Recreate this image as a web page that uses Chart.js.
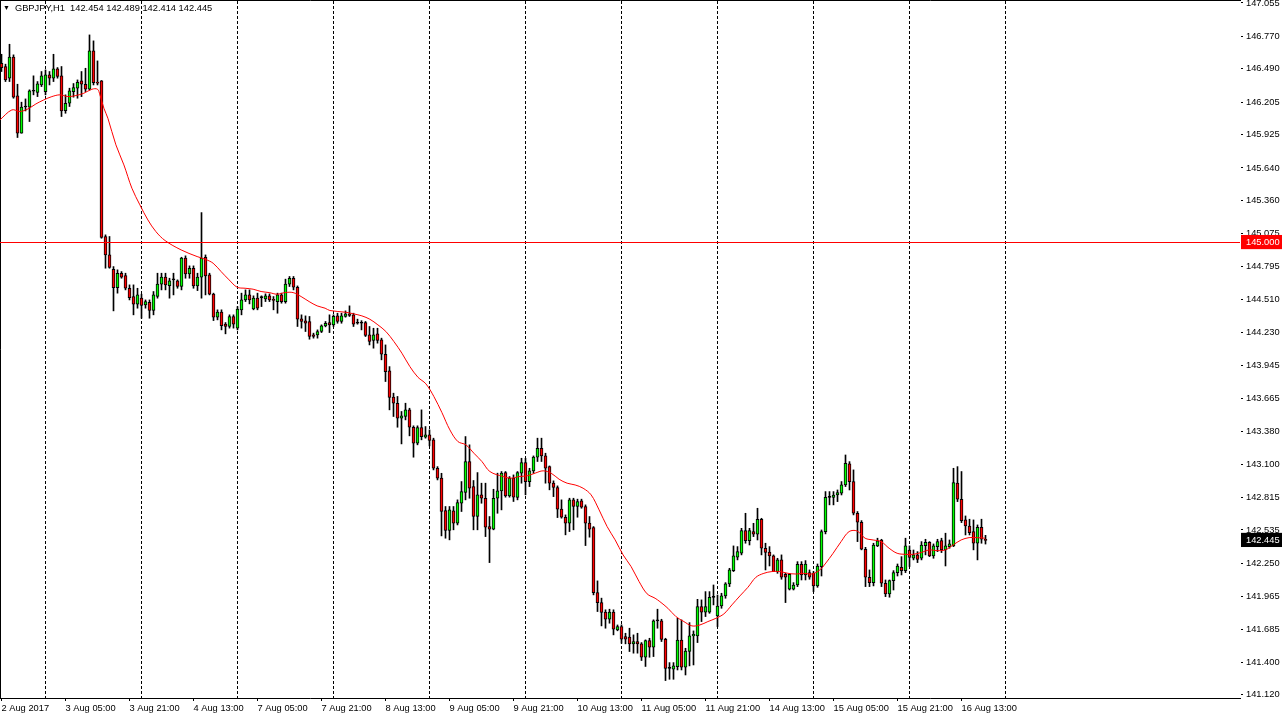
<!DOCTYPE html>
<html>
<head>
<meta charset="utf-8">
<script src="https://cdn.jsdelivr.net/npm/chart.js@4.4.1/dist/chart.umd.min.js"></script>
<style>
html,body{margin:0;padding:0;background:#fff;overflow:hidden}
#wrap{position:relative;width:1282px;height:719px}
canvas{display:block}
#title{position:absolute;left:3px;top:1px;font-family:"Liberation Sans",Arial,sans-serif;font-size:9.3px;line-height:14px;color:#000;white-space:pre}
#title .tri{font-size:7px;vertical-align:1px;margin-right:5px}
</style>
</head>
<body>
<div id="wrap">
<canvas id="c" width="1282" height="719"></canvas>
<div id="title"><span class="tri">▼</span>GBPJPY,H1  142.454 142.489 142.414 142.445</div>
</div>
<script>
// ---- DATA (GBPJPY, H1, from 2 Aug 2017 13:00) ----
const opens = [
146.538,146.510,146.410,146.590,146.258,145.938,146.163,146.161,146.298,146.287,
146.352,146.295,146.438,146.410,146.490,146.430,146.132,146.195,146.295,146.324,
146.387,146.358,146.315,146.644,146.372,146.387,145.052,144.894,144.771,144.614,
144.737,144.717,144.608,144.537,144.471,144.523,144.465,144.488,144.417,144.537,
144.643,144.703,144.631,144.680,144.671,144.623,144.866,144.731,144.780,144.628,
144.703,144.874,144.723,144.557,144.360,144.403,144.300,144.280,144.366,144.266,
144.423,144.508,144.551,144.431,144.523,144.528,144.517,144.543,144.514,144.494,
144.551,144.494,144.643,144.694,144.617,144.346,144.328,144.323,144.208,144.208,
144.237,144.286,144.314,144.294,144.371,144.323,144.366,144.388,144.380,144.308,
144.308,144.314,144.208,144.160,144.217,144.165,144.042,143.899,143.674,143.622,
143.493,143.508,143.565,143.416,143.279,143.413,143.330,143.350,143.307,143.064,
142.979,142.701,142.530,142.699,142.593,142.764,142.856,143.122,142.907,142.650,
142.836,142.807,142.564,142.541,142.807,142.870,143.027,142.827,142.979,142.813,
143.021,143.113,142.950,143.042,143.159,143.236,143.170,143.079,142.936,142.899,
142.713,142.644,142.593,142.793,142.736,142.784,142.736,142.593,142.556,141.998,
141.912,141.830,141.770,141.830,141.678,141.707,141.621,141.615,141.558,141.578,
141.558,141.443,141.586,141.529,141.755,141.755,141.597,141.348,141.340,141.363,
141.591,141.357,141.492,141.626,141.626,141.877,141.829,141.829,141.957,141.797,
141.883,141.969,142.072,142.186,142.301,142.335,142.529,142.443,142.521,142.498,
142.626,142.378,142.346,142.312,142.178,142.278,142.155,142.026,142.026,142.063,
142.240,142.149,142.169,142.163,142.055,142.221,142.521,142.815,142.815,142.835,
142.850,142.921,143.101,142.950,142.678,142.601,142.369,142.129,142.083,142.398,
142.449,142.078,141.986,142.100,142.169,142.215,142.186,142.363,142.292,142.321,
142.292,142.401,142.429,142.312,142.392,142.444,142.363,142.392,142.398,142.936,
142.798,142.621,142.569,142.521,142.421,142.558,142.454
];
const highs = [
146.615,146.530,146.701,146.610,146.358,146.204,146.232,146.310,146.430,146.381,
146.467,146.481,146.467,146.615,146.501,146.510,146.267,146.324,146.364,146.395,
146.467,146.495,146.781,146.730,146.558,146.390,145.066,145.052,144.794,144.766,
144.751,144.737,144.637,144.637,144.608,144.557,144.508,144.508,144.580,144.737,
144.737,144.737,144.694,144.737,144.680,144.874,144.886,144.800,144.800,144.737,
145.257,144.894,144.737,144.566,144.423,144.423,144.314,144.380,144.380,144.451,
144.566,144.594,144.594,144.543,144.566,144.543,144.560,144.560,144.537,144.566,
144.566,144.686,144.709,144.709,144.628,144.380,144.371,144.366,144.223,144.251,
144.294,144.323,144.380,144.380,144.394,144.394,144.414,144.457,144.394,144.343,
144.330,144.323,144.280,144.265,144.265,144.180,144.122,143.936,143.708,143.680,
143.551,143.622,143.579,143.428,143.428,143.565,143.422,143.393,143.322,143.078,
143.021,142.736,142.736,142.736,142.793,142.950,143.336,143.265,142.959,143.027,
142.936,142.936,142.650,142.884,143.022,143.036,143.036,142.993,143.007,143.036,
143.150,143.150,143.064,143.170,143.322,143.322,143.193,143.084,142.956,142.913,
142.793,142.664,142.807,142.807,142.799,142.799,142.750,142.650,142.564,142.098,
141.950,141.850,141.855,141.850,141.720,141.721,141.649,141.692,141.635,141.649,
141.569,141.592,141.606,141.764,141.855,141.769,141.606,141.397,141.397,141.777,
141.763,141.520,141.740,141.669,141.940,141.935,142.006,142.006,142.063,141.977,
141.992,142.083,142.206,142.398,142.392,142.549,142.678,142.549,142.592,142.721,
142.635,142.421,142.392,142.321,142.292,142.321,142.163,142.163,142.083,142.263,
142.263,142.272,142.192,142.178,142.243,142.535,142.864,142.864,142.864,142.878,
142.950,143.178,143.121,143.050,142.693,142.615,142.386,142.192,142.421,142.464,
142.455,142.106,142.106,142.186,142.243,142.306,142.464,142.398,142.363,142.349,
142.435,142.455,142.435,142.415,142.455,142.464,142.507,142.449,143.064,143.078,
143.036,142.655,142.627,142.621,142.578,142.627,142.489
];
const lows = [
146.467,146.381,146.381,146.238,145.901,145.938,146.129,146.038,146.267,146.252,
146.338,146.267,146.352,146.381,146.410,146.081,146.109,146.167,146.247,146.238,
146.252,146.295,146.310,146.352,146.352,145.037,144.780,144.780,144.414,144.566,
144.694,144.594,144.508,144.380,144.437,144.351,144.437,144.351,144.380,144.523,
144.594,144.594,144.523,144.551,144.608,144.594,144.694,144.694,144.608,144.588,
144.523,144.551,144.551,144.331,144.337,144.251,144.217,144.266,144.266,144.251,
144.380,144.494,144.474,144.423,144.423,144.451,144.494,144.494,144.423,144.394,
144.480,144.480,144.623,144.594,144.280,144.266,144.237,144.171,144.180,144.180,
144.228,144.277,144.228,144.280,144.308,144.308,144.360,144.366,144.280,144.300,
144.251,144.194,144.122,144.094,144.137,143.994,143.808,143.565,143.508,143.416,
143.273,143.479,143.342,143.159,143.265,143.308,143.322,143.256,143.050,142.964,
142.484,142.464,142.450,142.536,142.578,142.693,142.793,142.807,142.536,142.536,
142.764,142.478,142.255,142.536,142.678,142.707,142.816,142.816,142.779,142.793,
142.936,142.836,142.907,143.021,143.122,143.122,142.936,142.879,142.821,142.641,
142.636,142.493,142.521,142.536,142.644,142.721,142.401,142.473,141.978,141.835,
141.712,141.692,141.735,141.635,141.670,141.563,141.558,141.492,141.478,141.478,
141.415,141.364,141.443,141.449,141.692,141.578,141.243,141.254,141.254,141.334,
141.334,141.291,141.369,141.377,141.569,141.749,141.792,141.820,141.892,141.706,
141.863,141.949,142.049,142.178,142.278,142.321,142.421,142.406,142.478,142.449,
142.321,142.192,142.226,142.178,142.163,142.112,141.912,142.020,142.020,142.049,
142.106,142.106,142.112,142.006,142.043,142.140,142.501,142.750,142.750,142.778,
142.835,142.907,142.878,142.664,142.435,142.364,142.049,142.049,142.055,142.392,
142.049,141.963,141.958,142.020,142.140,142.149,142.169,142.221,142.278,142.255,
142.278,142.321,142.306,142.292,142.349,142.341,142.226,142.378,142.392,142.778,
142.598,142.492,142.492,142.364,142.278,142.421,142.414
];
const closes = [
146.501,146.395,146.590,146.247,145.938,146.161,146.163,146.301,146.298,146.361,
146.430,146.438,146.410,146.490,146.424,146.129,146.195,146.301,146.330,146.375,
146.358,146.315,146.644,146.372,146.367,145.043,144.894,144.786,144.614,144.737,
144.703,144.608,144.528,144.471,144.551,144.460,144.494,144.417,144.551,144.643,
144.703,144.637,144.671,144.680,144.623,144.866,144.731,144.780,144.628,144.703,
144.866,144.714,144.557,144.360,144.403,144.288,144.280,144.366,144.300,144.429,
144.508,144.551,144.508,144.523,144.437,144.528,144.543,144.508,144.503,144.551,
144.494,144.643,144.694,144.617,144.343,144.323,144.308,144.194,144.194,144.237,
144.286,144.308,144.294,144.368,144.323,144.371,144.388,144.374,144.300,144.308,
144.308,144.203,144.151,144.208,144.160,144.042,143.893,143.671,143.622,143.493,
143.513,143.565,143.416,143.279,143.413,143.336,143.350,143.302,143.064,142.979,
142.693,142.530,142.707,142.593,142.770,142.864,143.122,142.893,142.650,142.836,
142.807,142.558,142.541,142.807,142.870,143.022,142.827,142.979,142.816,143.027,
143.113,142.950,143.042,143.159,143.236,143.170,143.064,142.936,142.899,142.713,
142.644,142.593,142.793,142.736,142.779,142.730,142.593,142.541,141.998,141.912,
141.827,141.770,141.830,141.684,141.707,141.598,141.598,141.558,141.578,141.558,
141.443,141.586,141.529,141.755,141.755,141.595,141.348,141.348,141.369,141.591,
141.357,141.497,141.626,141.640,141.877,141.829,141.877,141.957,141.957,141.883,
141.969,142.072,142.192,142.312,142.349,142.529,142.443,142.529,142.498,142.626,
142.378,142.343,142.312,142.178,142.278,142.129,142.129,142.155,142.063,142.240,
142.149,142.243,142.129,142.055,142.226,142.521,142.815,142.815,142.835,142.855,
142.921,143.107,142.950,142.678,142.601,142.369,142.129,142.083,142.406,142.441,
142.078,141.986,142.100,142.169,142.226,142.186,142.398,142.300,142.321,142.283,
142.406,142.429,142.312,142.398,142.435,142.363,142.398,142.415,142.941,142.798,
142.615,142.569,142.512,142.421,142.558,142.455,142.445
];
// moving average: bar position and value
const maBars = [
-0.4,2.6,4.6,6.6,8.6,10.6,12.6,14.6,16.6,18.6,20.6,22.6,24.0,24.6,25.6,26.6,28.6,30.6,32.6,34.6,
36.6,38.6,40.9,44.9,48.9,50.9,52.9,54.9,56.9,58.9,60.9,62.9,64.9,66.9,68.9,70.9,72.9,74.9,76.9,78.9,
80.9,82.1,86.1,88.1,90.1,92.1,94.1,96.1,98.1,100.1,102.1,104.1,106.1,108.1,110.1,112.1,114.1,116.1,118.1,120.1,
122.1,125.4,127.4,129.4,131.4,133.4,135.4,137.4,139.4,141.4,143.4,145.4,147.4,149.4,151.4,153.4,155.4,157.4,159.4,161.4,
163.4,164.6,166.6,168.6,170.6,172.6,174.6,176.6,178.6,180.6,182.6,184.6,186.6,188.6,190.6,192.6,194.6,196.6,198.6,200.6,
202.6,204.6,205.9,207.9,209.9,211.9,213.9,215.9,217.9,219.9,221.9,223.9,225.9,227.9,229.9,231.9,233.9,235.9,237.9,239.9,
241.9,243.9,245.9
];
const maValues = [
146.052,146.138,146.124,146.146,146.189,146.224,146.252,146.267,146.252,146.261,146.281,146.315,146.315,146.267,146.152,146.066,145.838,145.666,145.466,145.323,
145.194,145.094,145.017,144.937,144.880,144.857,144.823,144.751,144.680,144.617,144.608,144.600,144.580,144.571,144.557,144.571,144.571,144.537,144.494,144.457,
144.437,144.417,144.402,144.388,144.371,144.342,144.294,144.237,144.151,144.051,143.936,143.845,143.788,143.679,143.542,143.393,143.293,143.265,143.193,143.122,
143.036,142.993,142.979,142.993,142.999,143.022,143.042,143.022,142.970,142.936,142.921,142.893,142.836,142.707,142.564,142.450,142.321,142.221,142.092,141.987,
141.949,141.920,141.863,141.792,141.749,141.712,141.720,141.749,141.777,141.815,141.892,141.969,142.043,142.129,142.163,142.178,142.178,142.163,142.157,142.163,
142.157,142.192,142.243,142.335,142.435,142.521,142.526,142.464,142.449,142.435,142.378,142.335,142.326,142.326,142.341,142.363,142.358,142.363,142.406,142.449,
142.469,142.469,142.464
];
const levelLine = 145.000;          // horizontal line
const lastPrice = 142.445;          // current bid tag
const yTickValues = [147.055,146.770,146.490,146.205,145.925,145.640,145.360,145.075,144.795,144.510,144.230,
  143.945,143.665,143.380,143.100,142.815,142.535,142.250,141.965,141.685,141.400,141.120];
const timeLabels = ["2 Aug 2017","3 Aug 05:00","3 Aug 21:00","4 Aug 13:00","7 Aug 05:00","7 Aug 21:00",
  "8 Aug 13:00","9 Aug 05:00","9 Aug 21:00","10 Aug 13:00","11 Aug 05:00","11 Aug 21:00",
  "14 Aug 13:00","15 Aug 05:00","15 Aug 21:00","16 Aug 13:00"];
const timeLabelBars = [0,16,32,48,64,80,96,112,128,144,160,176,192,208,224,240];
const dayStartBars = [11,35,59,83,107,131,155,179,203,227,251];

// ---- CHART ----
const FONT = '"Liberation Sans", Arial, sans-serif';
const BULL = '#00ff00', BEAR = '#ff0000';
const X_MIN = -0.375, X_MAX = X_MIN + 310;
const Y_MIN = 141.0935, Y_MAX = 147.0805;
const tags = [{v: levelLine, bg: '#ff0000'}, {v: lastPrice, bg: '#000000'}];
const tagOf = v => tags.find(t => Math.abs(t.v - v) < 1e-9);

const bodyData = opens.map((o, i) => ({x: i, y: [o, closes[i]]}));
const wickData = highs.map((h, i) => ({x: i, y: [lows[i], h]}));
const bodyColors = opens.map((o, i) => closes[i] > o ? BULL : (closes[i] < o ? BEAR : '#000000'));
const maData = maBars.map((b, i) => ({x: b, y: maValues[i]}));

new Chart(document.getElementById('c'), {
  type: 'bar',
  data: {
    datasets: [
      {type: 'line', data: maData, borderColor: '#ff0000', borderWidth: 1, pointRadius: 0,
       tension: 0.35, order: 0, xAxisID: 'x', yAxisID: 'y'},
      {type: 'bar', data: bodyData, backgroundColor: bodyColors, borderColor: '#000000', borderWidth: 1,
       borderSkipped: false, barThickness: 3, minBarLength: 1, grouped: false, order: 1, xAxisID: 'x', yAxisID: 'y'},
      {type: 'bar', data: wickData, backgroundColor: '#000000', borderWidth: 0,
       barThickness: 1, grouped: false, order: 2, xAxisID: 'x', yAxisID: 'y'}
    ]
  },
  options: {
    responsive: false, animation: false, devicePixelRatio: 1, events: [],
    layout: {padding: 0},
    plugins: {legend: {display: false}, tooltip: {enabled: false}, title: {display: false}},
    scales: {
      x: {
        type: 'linear', position: 'bottom', min: X_MIN, max: X_MAX, bounds: 'data', offset: false,
        afterBuildTicks: s => { s.ticks = timeLabelBars.map(v => ({value: v})); },
        afterFit: s => { s.height = 21; s.paddingLeft = 0; s.paddingRight = 0; },
        ticks: {autoSkip: false, maxRotation: 0, minRotation: 0, align: 'start', padding: 2, color: '#000',
                font: {family: FONT, size: 9.3}, callback: (v, i) => timeLabels[i]},
        grid: {display: true, offset: false, drawOnChartArea: false, drawTicks: true, tickLength: 3, color: '#000'},
        border: {display: true, color: '#000', width: 1}
      },
      xg: {
        type: 'linear', position: 'top', min: X_MIN, max: X_MAX, bounds: 'data', offset: false,
        afterBuildTicks: s => { s.ticks = dayStartBars.map(v => ({value: v})); },
        afterFit: s => { s.height = 0; s.paddingLeft = 0; s.paddingRight = 0; },
        ticks: {display: false},
        grid: {display: true, offset: false, drawOnChartArea: true, drawTicks: false, color: '#000', lineWidth: 1},
        border: {display: true, color: '#000', width: 1, dash: [3, 2]}
      },
      y: {
        type: 'linear', position: 'right', min: Y_MIN, max: Y_MAX, bounds: 'data',
        afterBuildTicks: s => { s.ticks = yTickValues.concat(tags.map(t => t.v)).map(v => ({value: v})); },
        afterFit: s => { s.width = 42; s.paddingTop = 0; s.paddingBottom = 0; },
        ticks: {
          autoSkip: false, padding: 3, font: {family: FONT, size: 9.3},
          callback: v => Number(v).toFixed(3),
          color: ctx => (ctx.tick && tagOf(ctx.tick.value)) ? '#ffffff' : '#000000',
          showLabelBackdrop: ctx => !!(ctx.tick && tagOf(ctx.tick.value)),
          backdropColor: ctx => { const t = ctx.tick && tagOf(ctx.tick.value); return t ? t.bg : 'rgba(0,0,0,0)'; },
          backdropPadding: {left: 5, right: 3, top: 2, bottom: 1}
        },
        grid: {
          display: true, drawOnChartArea: true, drawTicks: true, tickLength: 3, z: 1,
          color: ctx => (ctx.tick && Math.abs(ctx.tick.value - levelLine) < 1e-9 && ctx.index === yTickValues.length) ? '#ff0000' : 'rgba(0,0,0,0)',
          tickColor: ctx => (ctx.tick && ctx.index >= yTickValues.length) ? 'rgba(0,0,0,0)' : '#000000'
        },
        border: {display: true, color: '#000', width: 1}
      },
      yl: {
        type: 'linear', position: 'left', display: true,
        afterFit: s => { s.width = 0; s.paddingTop = 0; s.paddingBottom = 0; },
        ticks: {display: false}, grid: {display: false},
        border: {display: true, color: '#000', width: 1}
      }
    }
  }
});
</script>
</body>
</html>
